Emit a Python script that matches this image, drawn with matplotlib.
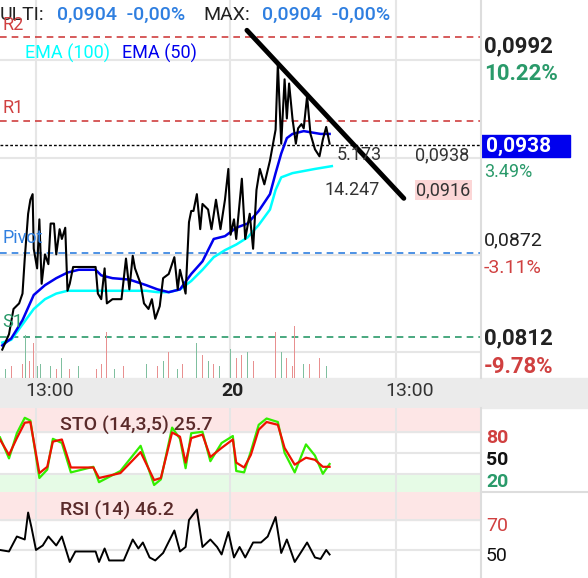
import matplotlib
matplotlib.use("Agg")
import matplotlib.pyplot as plt

plt.rcParams["font.family"] = ["Roboto", "DejaVu Sans"]

W, H = 588, 578

# price series (x = bar index, value = price)
px_x = [2, 8, 12, 17, 20, 22, 25, 27, 29, 30, 33, 35, 37, 40, 43, 45, 48, 50, 53, 55, 58, 60, 62, 65,
        85, 87, 90, 93, 95, 100, 108, 112, 115, 118, 120, 125, 128, 132, 135, 138, 142, 145, 150, 155,
        158, 160, 163, 165, 168, 170, 172, 175, 178, 180, 185, 188, 192, 196, 200, 203, 205, 208, 210,
        215, 218, 222, 225, 228, 231, 235, 240, 245, 247, 250, 253, 255, 257, 260, 263, 265, 268, 270,
        273, 276, 280, 284, 287, 290, 293]
px_y = [0.0803, 0.0814, 0.0832, 0.0836, 0.0843, 0.0868, 0.0900, 0.0910, 0.0914, 0.0875, 0.0861, 0.0896,
        0.0850, 0.0871, 0.0864, 0.0893, 0.0893, 0.0871, 0.0889, 0.0882, 0.0890, 0.0845, 0.0850, 0.0862,
        0.0862, 0.0843, 0.0839, 0.0861, 0.0836, 0.0839, 0.0839, 0.0868, 0.0846, 0.0870, 0.0861, 0.0850,
        0.0836, 0.0832, 0.0839, 0.0825, 0.0834, 0.0854, 0.0857, 0.0869, 0.0846, 0.0860, 0.0850, 0.0843,
        0.0894, 0.0902, 0.0902, 0.0914, 0.0889, 0.0907, 0.0903, 0.0889, 0.0910, 0.0889, 0.0910, 0.0932,
        0.0885, 0.0896, 0.0882, 0.0925, 0.0882, 0.0900, 0.0875, 0.0917, 0.0932, 0.0921, 0.0938, 0.0960,
        0.1007, 0.0950, 0.0996, 0.0968, 0.0993, 0.0968, 0.0950, 0.0961, 0.0964, 0.0961, 0.0984, 0.0957,
        0.0946, 0.0941, 0.0953, 0.0962, 0.0950]

ema50_x = [2, 10, 20, 30, 40, 50, 60, 70, 85, 90, 100, 115, 130, 140, 150, 160, 170, 180, 190, 200,
           210, 220, 230, 240, 245, 250, 255, 260, 270, 285, 293]
ema50_y = [0.0806, 0.0811, 0.0824, 0.0842, 0.0849, 0.0854, 0.0858, 0.0860, 0.0860, 0.0856, 0.0854,
           0.0853, 0.0849, 0.0846, 0.0844, 0.0846, 0.0857, 0.0866, 0.0882, 0.0884, 0.0890, 0.0893,
           0.0902, 0.0914, 0.0929, 0.0943, 0.0954, 0.0957, 0.0959, 0.0957, 0.0957]
ema100_x = [2, 10, 20, 30, 40, 50, 60, 80, 100, 130, 140, 150, 160, 170, 180, 190, 200, 210, 220, 230,
            240, 245, 250, 260, 280, 295]
ema100_y = [0.0808, 0.0810, 0.0821, 0.0832, 0.0839, 0.0843, 0.0845, 0.0845, 0.0845, 0.0845, 0.0844,
            0.0844, 0.0846, 0.0852, 0.0860, 0.0869, 0.0874, 0.0878, 0.0883, 0.0892, 0.0903, 0.0917,
            0.0926, 0.0929, 0.0932, 0.0934]

levels = {"R2": 0.1026, "R1": 0.0966, "Pivot": 0.0872, "S1": 0.0812}
last_price = 0.0949
trend_x = [219.5, 359]
trend_y = [0.1031, 0.0911]

vol_x = [5, 10, 16, 20, 23, 26, 30, 33, 36, 40, 45, 50, 55, 62, 70, 86, 90, 95, 102, 110, 120, 130,
         140, 145, 150, 158, 162, 168, 175, 180, 185, 190, 195, 200, 205, 210, 215, 220, 225, 232,
         240, 245, 250, 255, 260, 262, 270, 275, 284, 290, 296]
vol_h = [3, 4, 8, 5, 15, 6, 12, 4, 5, 3, 4, 3, 7, 3, 4, 3, 5, 16, 3, 4, 3, 5, 4, 6, 9, 3, 5, 6, 12,
         8, 6, 5, 4, 4, 10, 7, 8, 9, 6, 12, 11, 16, 9, 7, 4, 18, 5, 5, 7, 4, 3]
vol_up = [1, 0, 1, 0, 1, 0, 0, 1, 1, 0, 1, 0, 1, 0, 1, 0, 0, 0, 1, 0, 1, 1, 0, 1, 0, 1, 0, 1, 1,
          0, 1, 0, 1, 0, 1, 0, 0, 1, 0, 1, 1, 0, 1, 0, 0, 0, 1, 0, 0, 1, 0]

sto_x = [0, 8, 15, 22, 27, 35, 42, 47, 55, 63, 83, 88, 107, 125, 137, 143, 153, 160, 165, 170, 180,
         187, 197, 207, 210, 217, 223, 230, 237, 247, 253, 262, 272, 280, 287, 293]
sto_d = [69, 47, 71, 93, 94, 21, 30, 66, 69, 29, 29, 14, 21, 51, 11, 14, 79, 73, 36, 71, 76, 44, 57,
         69, 36, 29, 47, 83, 94, 90, 57, 33, 43, 40, 30, 30]
sto_k = [72, 42, 78, 100, 96, 14, 26, 70, 64, 22, 30, 8, 24, 60, 4, 12, 86, 70, 28, 78, 80, 38, 64,
         74, 24, 22, 52, 90, 99, 94, 50, 22, 62, 46, 20, 34]

rsi_x = [0, 8, 15, 22, 25, 28, 32, 38, 43, 50, 55, 62, 67, 85, 88, 93, 97, 110, 118, 123, 127, 133,
         138, 145, 155, 160, 165, 168, 175, 180, 187, 193, 197, 203, 208, 213, 218, 225, 232, 238, 245,
         250, 255, 262, 268, 273, 280, 285, 290, 293]
rsi_v = [50, 49, 59, 57, 75, 65, 50, 53, 59, 53, 59, 42, 49, 49, 42, 51, 43, 43, 57, 51, 55, 45, 43,
         48, 63, 49, 52, 70, 77, 52, 57, 52, 47, 62, 45, 52, 45, 55, 55, 59, 72, 48, 57, 42, 49, 55,
         45, 44, 50, 47]

XMAX = 427.6
GRID = "#e6e6e6"


def rect(y0, y1, x0=0, x1=481):
    return [x0 / W, 1 - y1 / H, (x1 - x0) / W, (y1 - y0) / H]


def ftext(x, y, s, **kw):
    kw.setdefault("va", "center")
    return fig.text(x / W, 1 - y / H, s, **kw)


def price_of(y):
    return 0.0812 + (337 - y) * 0.0000714


fig = plt.figure(figsize=(W / 100, H / 100), dpi=100)

# time band
fig.add_artist(plt.Rectangle((0, 1 - 408 / H), 1, 30 / H, transform=fig.transFigure,
                             color="#ebebeb", zorder=0))

ax = fig.add_axes(rect(0, 378))
ax.set_xlim(0, XMAX)
ax.set_ylim(price_of(378), price_of(0))
ax.axis("off")
for gy in [60, 158, 255, 352]:
    ax.axhline(price_of(gy), color=GRID, lw=1.5, zorder=0)
for gx in [32, 204.5, 352]:
    ax.axvline(gx, color=GRID, lw=1.5, zorder=0)

ax.axhline(levels["R2"], color="#d04040", ls=(0, (4, 3)), lw=1.2)
ax.axhline(levels["R1"], color="#d04040", ls=(0, (4, 3)), lw=1.2)
ax.axhline(levels["Pivot"], color="#2f7fe0", ls=(0, (4, 3)), lw=1.2)
ax.axhline(levels["S1"], color="#2a9a6a", ls=(0, (4, 3)), lw=1.2)
ax.axhline(last_price, color="black", ls=(0, (2, 1.5)), lw=1)

vax = fig.add_axes(rect(320, 378))
vax.set_xlim(0, XMAX)
vax.set_ylim(0, 20)
vax.axis("off")
vax.bar(vol_x, vol_h, width=0.8,
        color=["#7fbf9f" if u else "#e89090" for u in vol_up])

ax.plot(ema100_x, ema100_y, color="cyan", lw=1.8, zorder=3)
ax.plot(ema50_x, ema50_y, color="#0000ee", lw=1.8, zorder=3)
ax.plot(px_x, px_y, color="black", lw=1.5, zorder=4)
ax.plot(trend_x, trend_y, color="black", lw=3.5, zorder=5, solid_capstyle="round")

# stochastics
sax = fig.add_axes(rect(408, 492))
sax.set_xlim(0, XMAX)
sax.set_ylim(-6, 114)
sax.axis("off")
sax.axhspan(80, 114, color="#fde6e6", zorder=0)
sax.axhspan(-6, 20, color="#e6fbe6", zorder=0)
for v in [80, 50, 20]:
    sax.axhline(v, color=GRID, lw=1.5, zorder=0)
for gx in [32, 204.5, 352]:
    sax.axvline(gx, color=GRID, lw=1.5, zorder=0)
sax.plot(sto_x, sto_k, color="#33ee00", lw=1.6)
sax.plot(sto_x, sto_d, color="#ee1100", lw=1.6)

# rsi
rax = fig.add_axes(rect(492, 578))
rax.set_xlim(0, XMAX)
rax.set_ylim(31.3, 88.7)
rax.axis("off")
rax.axhspan(70, 88.7, color="#fde6e6", zorder=0)
for v in [70, 50]:
    rax.axhline(v, color=GRID, lw=1.5, zorder=0)
for gx in [32, 204.5, 352]:
    rax.axvline(gx, color=GRID, lw=1.5, zorder=0)
rax.plot(rsi_x, rsi_v, color="black", lw=1.4)

# separators
fig.add_artist(plt.Line2D([481 / W] * 2, [1 - 378 / H, 1], transform=fig.transFigure, color="#dddddd", lw=1.5))
fig.add_artist(plt.Line2D([481 / W] * 2, [0, 1 - 408 / H], transform=fig.transFigure, color="#dddddd", lw=1.5))
fig.add_artist(plt.Line2D([481 / W, 1], [1 - 492 / H] * 2, transform=fig.transFigure, color="#dddddd", lw=1.5))

# header
ftext(0, 15, "ULTI:", fontsize=14, color="#222222")
ftext(57, 15, "0,0904  -0,00%", fontsize=14, color="#2f7fe0", fontweight="medium")
ftext(203, 15, "MAX:", fontsize=14, color="#222222")
ftext(262, 15, "0,0904  -0,00%", fontsize=14, color="#2f7fe0", fontweight="medium")

ftext(2, 25, "R2", fontsize=13, color="#d04040")
ftext(2, 108, "R1", fontsize=13, color="#d04040")
ftext(2, 238, "Pivot", fontsize=13, color="#2f7fe0")
ftext(2, 322, "S1", fontsize=13, color="#2a9a6a")
ftext(25, 53, "EMA (100)", fontsize=13, color="cyan")
ftext(122, 53, "EMA (50)", fontsize=13, color="#0000ee")

ftext(337, 155, "5.173", fontsize=13, color="#333333")
ftext(415, 155, "0,0938", fontsize=13, color="#333333")
ftext(325, 190, "14.247", fontsize=13, color="#333333")
ftext(416, 190, "0,0916", fontsize=13, color="#333333",
      bbox=dict(facecolor="#fcd6d6", edgecolor="none", pad=1))

# right price labels
ftext(484, 46, "0,0992", fontsize=16, fontweight="bold", color="#222222")
ftext(484, 74, "10.22%", fontsize=16, fontweight="bold", color="#2a9a6a")
fig.add_artist(plt.Rectangle((481 / W, 1 - 157 / H), 89 / W, 22 / H, transform=fig.transFigure,
                             color="#0000ee"))
ftext(486, 146, "0,0938", fontsize=15, fontweight="bold", color="white")
ftext(484, 172, "3.49%", fontsize=13, color="#2a9a6a")
ftext(484, 240, "0,0872", fontsize=14, color="#222222")
ftext(484, 268, "-3.11%", fontsize=14, color="#d04040")
ftext(484, 338, "0,0812", fontsize=16, fontweight="bold", color="#222222")
ftext(484, 367, "-9.78%", fontsize=16, fontweight="bold", color="#d04040")

# time axis
ftext(50, 391, "13:00", fontsize=14, color="#333333", ha="center")
ftext(232, 391, "20", fontsize=14, fontweight="bold", color="#222222", ha="center")
ftext(410, 391, "13:00", fontsize=14, color="#333333", ha="center")

ftext(60, 425, "STO (14,3,5) 25.7", fontsize=14, color="#5a2a2a", fontweight="medium")
ftext(60, 510, "RSI (14) 46.2", fontsize=14, color="#5a2a2a", fontweight="medium")
ftext(486, 438, "80", fontsize=14, fontweight="bold", color="#d04040")
ftext(486, 460, "50", fontsize=14, fontweight="bold", color="#111111")
ftext(486, 482, "20", fontsize=14, fontweight="bold", color="#2a9a6a")
ftext(486, 526, "70", fontsize=14, color="#d04040")
ftext(486, 556, "50", fontsize=14, color="#111111")

fig.savefig("out.png", dpi=100)
